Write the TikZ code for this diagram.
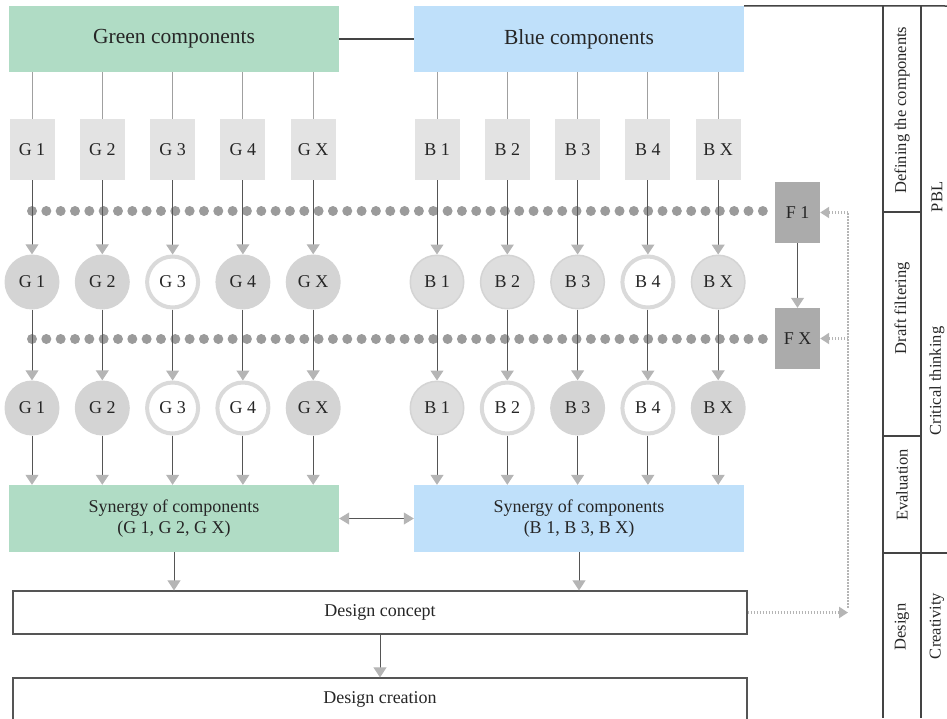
\documentclass[tikz,border=0pt]{standalone}
\usepackage{fontspec}
\setmainfont{Liberation Serif}
\usetikzlibrary{arrows.meta, positioning, calc}

\definecolor{hdgreen}{HTML}{B0DCC5}
\definecolor{hdblue}{HTML}{BFE0FA}
\definecolor{boxgrey}{HTML}{E3E3E3}
\definecolor{selgrey}{HTML}{D4D4D4}
\definecolor{keepgrey}{HTML}{DEDEDE}
\definecolor{ringgrey}{HTML}{DADADA}
\definecolor{filtgrey}{HTML}{ABABAB}
\definecolor{dotgrey}{HTML}{9B9B9B}
\definecolor{tipgrey}{HTML}{B5B5B5}
\definecolor{linegrey}{HTML}{555555}
\definecolor{hairgrey}{HTML}{A0A0A0}
\definecolor{rulegrey}{HTML}{444444}

\begin{document}
\begin{tikzpicture}[x=1pt, y=-1pt,
  every node/.style={text=black!85},
  headbox/.style={minimum width=330pt, minimum height=66pt, inner sep=0pt, font=\fontsize{21.5}{24}\selectfont},
  synbox/.style={minimum width=330pt, minimum height=67pt, inner sep=0pt, align=center, font=\fontsize{18}{21.5}\selectfont},
  compbox/.style={fill=boxgrey, minimum width=45pt, minimum height=61pt, inner sep=0pt, font=\fontsize{18}{20}\selectfont},
  filtbox/.style={compbox, fill=filtgrey},
  selcirc/.style={circle, fill=selgrey, minimum size=55pt, inner sep=0pt, font=\fontsize{18}{20}\selectfont},
  keepcirc/.style={selcirc, fill=keepgrey, draw=selgrey, line width=1.5pt, minimum size=53.5pt},
  dropcirc/.style={selcirc, fill=white, draw=ringgrey, line width=4pt, minimum size=51pt},
  stagebox/.style={draw=linegrey, line width=1.2pt, minimum width=734pt, minimum height=43pt, inner sep=0pt, font=\fontsize{18}{20}\selectfont},
  hairline/.style={draw=hairgrey, line width=1pt},
  flowarrow/.style={draw=linegrey, line width=1pt, -{Triangle[width=13pt, length=10pt, color=tipgrey]}},
  botharrow/.style={draw=linegrey, line width=1pt, {Triangle[width=12pt, length=10pt, color=tipgrey]}-{Triangle[width=12pt, length=10pt, color=tipgrey]}},
  feedline/.style={draw=tipgrey, line width=2.5pt, dash pattern=on 1.5pt off 1.5pt},
  feedarrow/.style={feedline, -{Triangle[width=11pt, length=9pt, color=tipgrey]}},
  tablerule/.style={draw=rulegrey, line width=1.5pt},
  tablabel/.style={rotate=90, inner sep=0pt, font=\fontsize{16.5}{19}\selectfont}
  ]
  \useasboundingbox (0,0) rectangle (947,718);
  \clip (0,0) rectangle (947,718);

  \foreach \r in {211,339}
    \foreach \k in {0,...,51}
      \fill[dotgrey] ({32+14.33*\k},\r) circle (5pt);

  \node[headbox, fill=hdgreen] (green) at (174,39) {Green components};
  \node[headbox, fill=hdblue] (blue) at (579,39) {Blue components};
  \draw[tablerule, line width=1.2pt] (green) -- (blue);

  \foreach \lab/\sa/\sb [count=\i from 0] in {1/selcirc/selcirc, 2/selcirc/selcirc, 3/dropcirc/dropcirc, 4/selcirc/dropcirc, X/selcirc/selcirc} {
    \node[compbox] (gc\lab) at ({32+70.3*\i},149.5) {G \lab};
    \node[\sa] (gf\lab) at ({32+70.3*\i},282) {G \lab};
    \node[\sb] (gs\lab) at ({32+70.3*\i},408) {G \lab};
    \draw[hairline] (green.south -| gc\lab) -- (gc\lab);
    \draw[flowarrow] (gc\lab) -- (gf\lab);
    \draw[flowarrow] (gf\lab) -- (gs\lab);
  }
  \foreach \lab/\sa/\sb [count=\i from 0] in {1/keepcirc/keepcirc, 2/keepcirc/dropcirc, 3/keepcirc/selcirc, 4/dropcirc/dropcirc, X/keepcirc/selcirc} {
    \node[compbox] (bc\lab) at ({437+70.3*\i},149.5) {B \lab};
    \node[\sa] (bf\lab) at ({437+70.3*\i},282) {B \lab};
    \node[\sb] (bs\lab) at ({437+70.3*\i},408) {B \lab};
    \draw[hairline] (blue.south -| bc\lab) -- (bc\lab);
    \draw[flowarrow] (bc\lab) -- (bf\lab);
    \draw[flowarrow] (bf\lab) -- (bs\lab);
  }

  \node[filtbox] (f1) at (797.5,212.5) {F 1};
  \node[filtbox] (fx) at (797.5,338.5) {F X};
  \draw[flowarrow] (f1) -- (fx);

  \node[synbox, fill=hdgreen] (gsyn) at (174,518.5) {Synergy of components\\(G 1, G 2, G X)};
  \node[synbox, fill=hdblue] (bsyn) at (579,518.5) {Synergy of components\\(B 1, B 3, B X)};
  \draw[botharrow] (gsyn) -- (bsyn);
  \foreach \lab in {1,2,3,4,X} {
    \draw[flowarrow] (gs\lab) -- (gs\lab |- gsyn.north);
    \draw[flowarrow] (bs\lab) -- (bs\lab |- bsyn.north);
  }

  \node[stagebox] (concept) at (380,612.5) {Design concept};
  \node[stagebox] (creation) at (380,699.5) {Design creation};
  \draw[flowarrow] (gsyn) -- (gsyn |- concept.north);
  \draw[flowarrow] (bsyn) -- (bsyn |- concept.north);
  \draw[flowarrow] (concept) -- (creation);

  \coordinate (fb) at (848,612.5);
  \draw[feedarrow] (concept) -- (fb);
  \draw[feedline] (fb) ++(0,-5) -- (fb |- f1);
  \draw[feedarrow] (fb |- f1) -- (f1);
  \draw[feedarrow] (fb |- fx) -- (fx);

  \draw[tablerule] (blue.north east) -- (947,6);
  \draw[tablerule] (883,6) -- (883,718) (921,6) -- (921,718);
  \draw[tablerule] (883,212) -- (921,212) (883,436) -- (921,436) (883,553) -- (947,553);
  \node[tablabel] (tdef) at (902,110) {Defining the components};
  \node[tablabel] (tdraft) at (902,308) {Draft filtering};
  \node[tablabel] (teval) at (902,485) {Evaluation};
  \node[tablabel] (tdes) at (902,627) {Design};
  \node[tablabel] (tpbl) at (937,197) {PBL};
  \node[tablabel] (tcrit) at (937,381) {Critical thinking};
  \node[tablabel] (tcrea) at (937,626) {Creativity};
\end{tikzpicture}
\end{document}
